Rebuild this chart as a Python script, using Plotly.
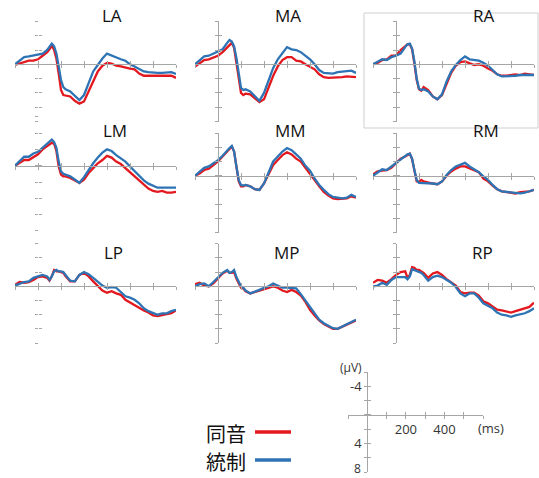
import plotly.graph_objects as go

W, H = 539, 478

time_ms = [-100, -80, -60, -40, -20, 0, 20, 40, 50, 60, 70, 80, 90, 100, 110, 120, 140, 160, 180, 200,
           220, 240, 260, 280, 300, 320, 340, 360, 380, 400, 420, 440, 460, 480, 500, 520, 540, 560, 580, 600]

# 同音 (red) and 統制 (blue) waveforms, µV (negative up)
la_doon = [0.1, -0.1, -0.4, -0.5, -0.5, -0.7, -1.2, -1.7, -2.1, -2.6, -2.0, -0.8, 1.3, 3.6, 4.3, 4.4, 4.5, 5.1, 5.5, 5.2,
           3.8, 2.2, 1.0, 0.2, -0.2, -0.1, 0.2, 0.3, 0.5, 0.6, 0.7, 1.3, 1.6, 1.6, 1.6, 1.5, 1.5, 1.5, 1.6, 1.9]
la_tosei = [0, -0.5, -1.0, -1.1, -1.2, -1.3, -1.5, -2.0, -2.5, -2.9, -2.5, -1.5, 0.3, 2.2, 3.2, 3.5, 3.8, 4.4, 5.0, 4.3,
            2.7, 1.0, 0.1, -0.8, -1.5, -1.2, -1.0, -0.7, -0.5, 0, 0.3, 0.7, 1.0, 1.1, 1.2, 1.2, 1.2, 1.1, 1.1, 1.35]

ma_doon = [0.3, -0.2, -0.6, -0.7, -1.0, -1.2, -1.7, -2.4, -2.8, -3.0, -2.3, -0.4, 2.1, 4.0, 4.3, 4.1, 4.2, 4.7, 5.3, 4.9,
           3.3, 1.6, 0.3, -0.6, -1.0, -1.0, -0.5, -0.4, 0, 0.3, 0.7, 1.4, 1.8, 1.9, 1.9, 1.8, 1.8, 1.7, 1.8, 1.8]
ma_tosei = [0, -0.6, -1.1, -1.2, -1.5, -1.7, -2.1, -3.0, -3.4, -3.2, -2.5, -0.9, 1.4, 3.3, 3.6, 3.5, 3.8, 4.5, 5.1, 4.0,
            2.1, 0.5, -0.7, -1.6, -2.4, -2.1, -2.0, -1.7, -1.2, -0.7, 0, 0.8, 1.2, 1.3, 1.3, 1.1, 1.0, 1.0, 0.9, 1.2]

ra_doon = [0, -0.2, -0.6, -0.7, -1.2, -1.2, -2.0, -2.5, -2.8, -2.8, -2.1, -0.1, 2.2, 3.5, 3.7, 3.2, 3.6, 4.5, 4.9, 4.3,
           2.7, 1.2, 0.2, -0.3, -0.4, -0.2, 0.1, 0, 0.2, 0.6, 0.9, 1.4, 1.6, 1.6, 1.5, 1.4, 1.5, 1.3, 1.4, 1.5]
ra_tosei = [0, -0.4, -0.7, -0.6, -1.0, -1.2, -1.5, -2.4, -2.8, -2.9, -2.2, -0.4, 2.0, 3.4, 3.6, 3.5, 3.8, 4.5, 4.9, 4.2,
            2.4, 1.0, 0.1, -0.6, -1.1, -0.7, -0.6, -0.5, -0.2, 0.2, 0.8, 1.4, 1.7, 1.7, 1.6, 1.6, 1.5, 1.5, 1.4, 1.5]

lm_doon = [0, -0.3, -0.7, -0.7, -1.1, -1.4, -2.0, -2.4, -2.6, -2.8, -2.7, -1.8, 0.1, 1.1, 1.3, 1.3, 1.5, 1.8, 2.1, 1.7,
           0.9, 0.3, -0.3, -0.7, -1.2, -1.0, -0.5, -0.2, 0.3, 0.8, 1.3, 1.8, 2.4, 2.8, 3.1, 3.2, 3.1, 3.3, 3.3, 3.2]
lm_tosei = [0, -0.5, -1.1, -1.1, -1.5, -1.7, -2.2, -2.7, -3.0, -3.2, -2.9, -2.2, -0.5, 0.7, 1.0, 1.1, 1.3, 1.7, 2.1, 1.4,
            0.5, -0.3, -1.0, -1.6, -2.0, -1.8, -1.3, -0.9, -0.5, 0.1, 0.7, 1.2, 1.8, 2.2, 2.5, 2.7, 2.7, 2.7, 2.7, 2.7]

mm_doon = [0, -0.3, -0.8, -1.0, -1.5, -2.0, -2.7, -3.4, -3.8, -4.1, -3.4, -1.0, 0.8, 1.5, 1.5, 1.3, 1.5, 1.9, 2.0, 1.1,
           -0.3, -1.5, -2.2, -2.9, -3.3, -3.0, -2.4, -2.0, -1.1, -0.3, 0.6, 1.5, 2.3, 2.8, 3.2, 3.3, 3.3, 3.2, 2.9, 3.1]
mm_tosei = [0, -0.5, -1.1, -1.3, -1.7, -2.2, -2.8, -3.6, -3.9, -4.2, -3.4, -1.3, 0.6, 1.3, 1.4, 1.3, 1.5, 1.9, 2.0, 1.1,
            -0.5, -2.0, -2.7, -3.4, -3.9, -3.6, -3.0, -2.4, -1.4, -0.7, 0.4, 1.3, 2.0, 2.6, 3.0, 3.1, 3.2, 3.1, 2.7, 3.0]

rm_doon = [-0.2, -0.6, -0.7, -0.8, -1.1, -1.7, -2.4, -2.7, -2.9, -3.1, -2.3, -0.7, 0.8, 0.9, 0.6, 0.8, 1.0, 1.1, 1.2, 0.8,
           0, -0.6, -1.0, -1.3, -1.3, -1.0, -0.7, -0.5, 0.4, 0.8, 1.4, 1.9, 2.2, 2.3, 2.3, 2.5, 2.3, 2.3, 2.2, 2.0]
rm_tosei = [0, -0.5, -0.9, -0.8, -1.3, -1.7, -2.3, -2.8, -3.0, -3.1, -2.4, -0.8, 0.6, 1.0, 1.0, 1.0, 1.1, 1.1, 1.2, 0.8,
            -0.1, -0.8, -1.3, -1.5, -1.8, -1.3, -0.9, -0.5, 0.1, 0.6, 1.3, 1.9, 2.2, 2.3, 2.3, 2.4, 2.5, 2.4, 2.2, 2.0]

lp_doon = [-0.2, -0.6, -0.5, -0.6, -0.9, -1.3, -1.4, -1.2, -0.8, -1.4, -2.3, -2.1, -2.1, -2.0, -1.9, -1.4, -0.7, -0.7, -1.6, -1.9,
           -1.4, -0.7, 0, 0.6, 0.9, 0.7, 1.0, 1.2, 1.9, 2.3, 2.6, 3.1, 3.4, 3.7, 4.1, 4.2, 4.1, 4.0, 3.8, 3.4]
lp_tosei = [-0.1, -0.4, -0.6, -0.7, -1.2, -1.4, -1.6, -1.4, -0.9, -1.4, -2.1, -2.3, -2.1, -2.1, -2.0, -1.6, -0.8, -0.7, -1.6, -2.0,
            -1.7, -1.2, -0.6, -0.1, 0.2, 0.1, 0.2, 0.8, 1.4, 1.6, 1.9, 2.4, 3.1, 3.5, 3.8, 4.0, 3.8, 3.8, 3.5, 3.3]

mp_doon = [-0.3, -0.5, -0.1, 0, -0.4, -1.1, -1.8, -2.2, -1.9, -1.9, -2.0, -1.1, -0.4, 0.2, 0.3, 0.7, 1.0, 0.8, 0.5, 0.3,
           0.2, 0, 0.2, 0.6, 0.8, 0.5, 0.8, 1.3, 2.2, 3.3, 4.1, 4.8, 5.3, 5.6, 6.0, 6.0, 5.7, 5.4, 5.0, 4.8]
mp_tosei = [0, -0.3, -0.4, 0, -0.6, -1.3, -1.9, -2.3, -1.9, -2.0, -2.3, -1.3, -0.6, 0, 0.2, 0.6, 1.0, 0.8, 0.5, 0.2,
            0, -0.4, -0.1, 0.2, 0.2, 0.2, 0.3, 1.1, 2.0, 3.0, 3.8, 4.7, 5.2, 5.6, 5.9, 6.0, 5.7, 5.4, 5.0, 4.7]

rp_doon = [-0.5, -0.9, -0.8, -0.5, -1.0, -1.6, -2.0, -2.1, -1.2, -1.6, -2.7, -2.6, -2.3, -2.3, -2.1, -1.9, -1.2, -1.8, -2.0, -1.6,
           -1.0, -0.6, -0.1, 0.8, 1.0, 0.9, 0.9, 1.3, 2.1, 2.4, 2.8, 3.3, 3.4, 3.5, 3.7, 3.5, 3.3, 3.2, 2.9, 2.3]
rp_tosei = [0, -0.1, -0.5, -0.2, -0.9, -1.3, -1.3, -1.3, -1.0, -1.4, -2.4, -2.3, -2.1, -2.0, -1.9, -1.6, -0.8, -1.3, -1.5, -1.3,
            -0.9, -0.5, 0.1, 1.0, 1.4, 1.0, 1.0, 1.6, 2.4, 2.7, 3.1, 3.7, 4.0, 4.1, 4.3, 4.1, 4.0, 3.8, 3.5, 3.1]

panel_names = ["LA", "MA", "RA", "LM", "MM", "RM", "LP", "MP", "RP"]
doon_series = [la_doon, ma_doon, ra_doon, lm_doon, mm_doon, rm_doon, lp_doon, mp_doon, rp_doon]
tosei_series = [la_tosei, ma_tosei, ra_tosei, lm_tosei, mm_tosei, rm_tosei, lp_tosei, mp_tosei, rp_tosei]

x_ticks = [-100, 0, 100, 200, 300, 400, 500, 600]
y_ticks = [-6, -4, -2, 0, 2, 4, 6, 8]
legend_labels = ["同音", "統制"]
scale_x_text = ["", "", "", "200", "", "400", "", ""]
scale_y_text = ["", "-4", "", "", "", "4", "", ""]
scale_bottom_label = "8"

RED = "#e3191f"
BLUE = "#2e74b5"
AXC = "#a6a6a6"

for s in doon_series + tosei_series:
    assert len(s) == len(time_ms)

# layout geometry (pixels)
col_px = {"L": (15, 176), "M": (195, 356), "R": (373, 534)}
row_px = {"LA": (21.4, 121.5), "MA": (21.4, 121.5), "RA": (21.4, 121.5),
          "LM": (116.8, 230.9), "MM": (133.1, 232.5), "RM": (133.1, 232.5),
          "LP": (243.7, 343.1), "MP": (243.7, 343.1), "RP": (243.7, 343.1)}
title_px = {"LA": (112, 16), "MA": (288, 16), "RA": (483, 16),
            "LM": (115, 131), "MM": (290, 131), "RM": (486, 131),
            "LP": (113, 252), "MP": (287, 252), "RP": (482, 252)}


def fx(p):
    return p / W


def fy(p):
    return 1 - p / H


fig = go.Figure()
layout = dict(width=W, height=H, margin=dict(l=0, r=0, t=0, b=0),
              paper_bgcolor="white", plot_bgcolor="rgba(0,0,0,0)", showlegend=False,
              font=dict(family="Open Sans", size=12, color="#333333"))
annotations = []
shapes = []


def add_axes(idx, x0, x1, ytop, ybot, showyline, xtext=None, ytext=None):
    xzero = x0 + (x1 - x0) * 100 / 700
    yzero = ytop + (ybot - ytop) * 6 / 14
    common_x = dict(domain=[fx(x0), fx(x1)], range=[-100, 600], anchor="free", position=fy(yzero),
                    tickvals=x_ticks, ticklen=3, tickcolor=AXC, tickwidth=1,
                    showgrid=False, zeroline=False)
    common_y = dict(domain=[fy(ybot), fy(ytop)], range=[8, -6], anchor="free", position=fx(xzero),
                    tickvals=y_ticks, ticklen=3, tickcolor=AXC, tickwidth=1,
                    showgrid=False, zeroline=False)
    xa = dict(common_x, showline=True, linecolor=AXC, linewidth=1, ticks="outside")
    ya = dict(common_y, showline=showyline, linecolor=AXC, linewidth=1, ticks="outside")
    if xtext is not None:
        xa.update(ticktext=xtext, showticklabels=True, tickfont=dict(size=13, color="#333333"))
    else:
        xa.update(showticklabels=False)
    if ytext is not None:
        ya.update(ticktext=ytext, showticklabels=True, tickfont=dict(size=13, color="#333333"))
    else:
        ya.update(showticklabels=False)
    layout[f"xaxis{idx}"] = xa
    layout[f"yaxis{idx}"] = ya
    j = idx + 10
    layout[f"xaxis{j}"] = dict(common_x, showline=False, ticks="inside", showticklabels=False,
                               overlaying=f"x{idx}")
    layout[f"yaxis{j}"] = dict(common_y, showline=False, ticks="inside", showticklabels=False,
                               overlaying=f"y{idx}")
    fig.add_trace(go.Scatter(x=[None], y=[None], xaxis=f"x{j}", yaxis=f"y{j}", showlegend=False,
                             hoverinfo="skip"))


for i, name in enumerate(panel_names):
    idx = i + 1
    x0, x1 = col_px[name[0]]
    ytop, ybot = row_px[name]
    add_axes(idx, x0, x1, ytop, ybot, showyline=(name[0] != "L"))
    fig.add_trace(go.Scatter(x=time_ms, y=doon_series[i], mode="lines", name=legend_labels[0],
                             line=dict(color=RED, width=2.3), xaxis=f"x{idx}", yaxis=f"y{idx}"))
    fig.add_trace(go.Scatter(x=time_ms, y=tosei_series[i], mode="lines", name=legend_labels[1],
                             line=dict(color=BLUE, width=2.3), xaxis=f"x{idx}", yaxis=f"y{idx}"))
    tx, ty = title_px[name]
    annotations.append(dict(text=name, x=fx(tx), y=fy(ty), xref="paper", yref="paper",
                            showarrow=False, xanchor="center", yanchor="middle",
                            font=dict(family="Open Sans", size=17, color="#111111")))

# scale axis
add_axes(10, 348, 483, 372, 472, showyline=True, xtext=scale_x_text, ytext=scale_y_text)
fig.add_trace(go.Scatter(x=[None], y=[None], xaxis="x10", yaxis="y10", showlegend=False, hoverinfo="skip"))
annotations.append(dict(text="(µV)", x=fx(364), y=fy(367), xref="paper", yref="paper", showarrow=False,
                        xanchor="right", yanchor="middle", font=dict(size=12, color="#333333")))
annotations.append(dict(text="(ms)", x=fx(476), y=fy(428), xref="paper", yref="paper", showarrow=False,
                        xanchor="left", yanchor="middle", font=dict(size=13, color="#333333")))
annotations.append(dict(text=scale_bottom_label, x=fx(362), y=fy(477.5), xref="paper", yref="paper",
                        showarrow=False, xanchor="right", yanchor="bottom", borderpad=0,
                        font=dict(size=12, color="#333333")))

# legend (text then line)
for k, (lab, col, yy) in enumerate([(legend_labels[0], RED, 433), (legend_labels[1], BLUE, 461)]):
    annotations.append(dict(text=lab, x=fx(247), y=fy(yy), xref="paper", yref="paper", showarrow=False,
                            xanchor="right", yanchor="middle", borderpad=0,
                            font=dict(family="Noto Sans CJK JP", size=20, color="#111111")))
    shapes.append(dict(type="line", xref="paper", yref="paper", x0=fx(255), x1=fx(291),
                       y0=fy(yy - 1), y1=fy(yy - 1), line=dict(color=col, width=3.5)))

# box around RA panel
shapes.append(dict(type="rect", xref="paper", yref="paper", x0=fx(364), x1=fx(538), y0=fy(128), y1=fy(13),
                   line=dict(color="#cfcfcf", width=1), fillcolor="rgba(0,0,0,0)", layer="below"))

layout["annotations"] = annotations
layout["shapes"] = shapes
fig.update_layout(**layout)
fig.write_html("out.html")
